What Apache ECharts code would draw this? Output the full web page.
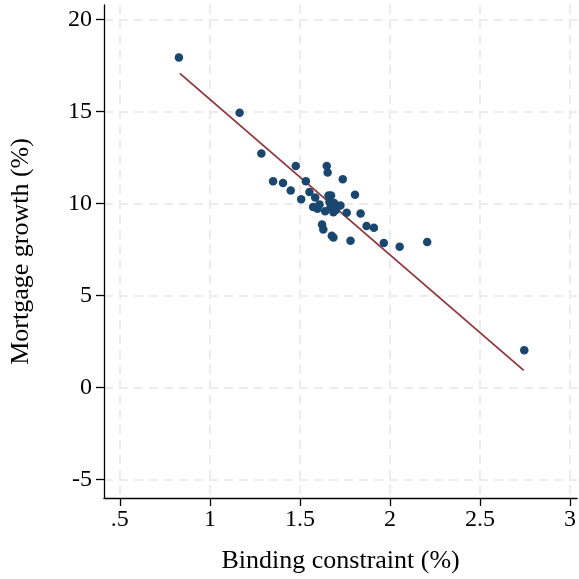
<!DOCTYPE html>
<html><head><meta charset="utf-8">
<script src="https://cdn.jsdelivr.net/npm/echarts@6/dist/echarts.min.js"></script>
<style>html,body{margin:0;padding:0;background:#fff}#c{width:579px;height:579px}</style>
</head><body><div id="c"></div>
<script>
const bindingX = [0.828,1.165,1.286,1.351,1.406,1.449,1.477,1.507,1.533,1.553,1.585,1.573,1.609,1.597,1.640,1.649,1.654,1.659,1.673,1.670,1.686,1.725,1.738,1.760,1.806,1.837,1.870,1.911,1.623,1.630,1.677,1.686,1.781,1.966,2.054,2.207,2.746,1.700,1.664,1.690];
const mortgageY = [17.94,14.94,12.73,11.22,11.13,10.71,12.05,10.24,11.22,10.63,10.33,9.82,9.95,9.72,9.59,12.05,11.69,10.44,10.44,9.82,9.53,9.90,11.33,9.50,10.49,9.46,8.78,8.69,8.87,8.60,8.25,8.16,7.98,7.86,7.66,7.92,2.03,9.66,10.09,10.04];
const fitX = [0.833, 2.743];
const fitY = [17.08, 0.94];
const xTicks = [0.5,1,1.5,2,2.5,3];
const xTickLabels = ['.5','1','1.5','2','2.5','3'];
const yTicks = [-5,0,5,10,15,20];
const yTickLabels = ['-5','0','5','10','15','20'];

const font = 'Liberation Serif, Times New Roman, serif';
const chart = echarts.init(document.getElementById('c'));
const splitStyle = {show:true, lineStyle:{color:'#ececec', width:2, type:[9,6]}};
chart.setOption({
  animation:false,
  grid:{left:103, right:1, top:5, bottom:75, containLabel:false},
  xAxis:{
    type:'value', min:0.412, max:3.04,
    name:'Binding constraint (%)', nameLocation:'middle', nameGap:50,
    nameTextStyle:{fontFamily:font, fontSize:26, color:'#000'},
    axisLine:{show:true, onZero:false, lineStyle:{color:'#000', width:1.3}},
    axisTick:{show:true, length:8, customValues:xTicks, lineStyle:{color:'#000', width:1.3}},
    axisLabel:{customValues:xTicks, fontFamily:font, fontSize:24, color:'#000', margin:10,
      formatter:v=>{const i=xTicks.findIndex(t=>Math.abs(t-v)<1e-6);return i>=0?xTickLabels[i]:'';}},
    splitLine:splitStyle
  },
  yAxis:{
    type:'value', min:-6, max:20.8,
    name:'Mortgage growth (%)', nameLocation:'middle', nameGap:70, nameRotate:90,
    nameTextStyle:{fontFamily:font, fontSize:26, color:'#000'},
    axisLine:{show:true, onZero:false, lineStyle:{color:'#000', width:1.3}},
    axisTick:{show:true, length:8, customValues:yTicks, lineStyle:{color:'#000', width:1.3}},
    axisLabel:{customValues:yTicks, fontFamily:font, fontSize:24, color:'#000', margin:12,
      formatter:v=>{const i=yTicks.findIndex(t=>Math.abs(t-v)<1e-6);return i>=0?yTickLabels[i]:'';}},
    splitLine:splitStyle
  },
  series:[
    {type:'scatter', data:bindingX.map((x,i)=>[x,mortgageY[i]]), symbolSize:8.5,
      itemStyle:{color:'#1a476f', opacity:1}, z:3},
    {type:'line', data:fitX.map((x,i)=>[x,fitY[i]]), symbol:'none',
      lineStyle:{color:'#90353b', width:1.8}, z:2}
  ]
});
</script></body></html>
